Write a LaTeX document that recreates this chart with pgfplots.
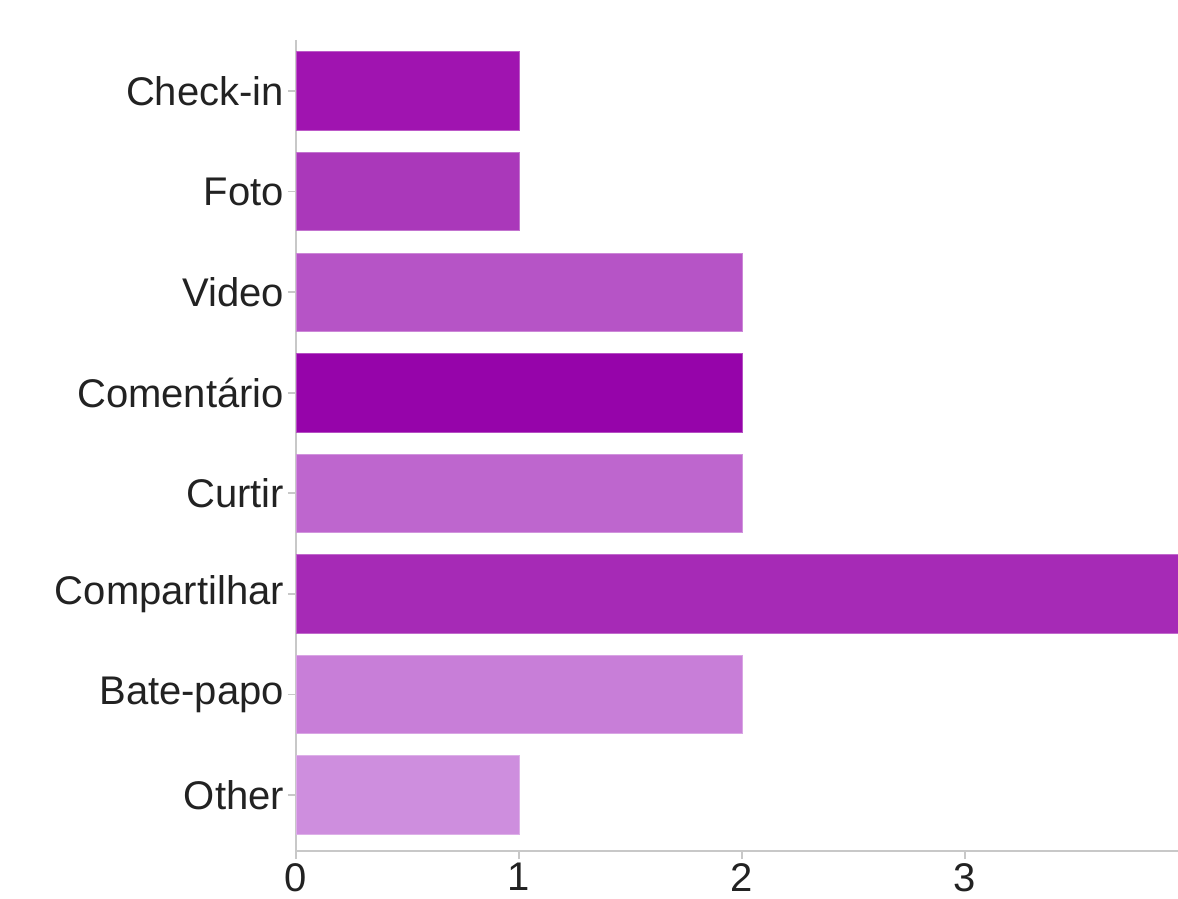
\documentclass[border=0pt]{standalone}
\usepackage{pgfplots}
\pgfplotsset{compat=1.18}
\usepackage{fontspec}
\setmainfont{Liberation Sans}

\definecolor{cCheck}{RGB}{160,20,176}
\definecolor{cFoto}{RGB}{170,56,186}
\definecolor{cVideo}{RGB}{182,84,198}
\definecolor{cComent}{RGB}{150,4,170}
\definecolor{cCurtir}{RGB}{190,102,206}
\definecolor{cCompart}{RGB}{166,42,182}
\definecolor{cBate}{RGB}{200,126,216}
\definecolor{cOther}{RGB}{206,142,222}
\definecolor{axisgray}{RGB}{200,200,200}
\definecolor{labelgray}{RGB}{34,34,34}

\begin{document}
\begin{tikzpicture}
\begin{axis}[
    at={(0,0)}, anchor=south west,
    scale only axis,
    width=441pt, height=405.5pt,
    xbar, bar width=0.78, bar shift=0pt,
    xmin=0, xmax=3.955,
    ymin=-0.507, ymax=7.557,
    y dir=reverse,
    axis lines*=left,
    axis line style={axisgray, line width=1.2pt, -},
    xtick={0,1,2,3},
    ytick={0,...,7},
    yticklabels={Check-in,Foto,Video,Comentário,Curtir,Compartilhar,Bate-papo,Other},
    tick style={axisgray, line width=0.8pt},
    major tick length=4pt,
    xtick pos=bottom, ytick pos=left,
    tick align=outside,
    ticklabel style={font=\fontsize{20}{24}\selectfont, text=labelgray},
    yticklabel style={xshift=1.5pt},
    xticklabel style={yshift=1.5pt},
    /pgf/number format/assume math mode=true,
    clip=true,
]
\addplot[fill=cCheck, draw=cCheck!70!white] coordinates {(1,0)};
\addplot[fill=cFoto, draw=cFoto!70!white] coordinates {(1,1)};
\addplot[fill=cVideo, draw=cVideo!70!white] coordinates {(2,2)};
\addplot[fill=cComent, draw=cComent!70!white] coordinates {(2,3)};
\addplot[fill=cCurtir, draw=cCurtir!70!white] coordinates {(2,4)};
\addplot[fill=cCompart, draw=cCompart!70!white] coordinates {(4,5)};
\addplot[fill=cBate, draw=cBate!70!white] coordinates {(2,6)};
\addplot[fill=cOther, draw=cOther!70!white] coordinates {(1,7)};
\end{axis}
\pgfresetboundingbox
\path[use as bounding box] (-148pt,-24pt) rectangle (441pt,425.5pt);
\end{tikzpicture}
\end{document}
